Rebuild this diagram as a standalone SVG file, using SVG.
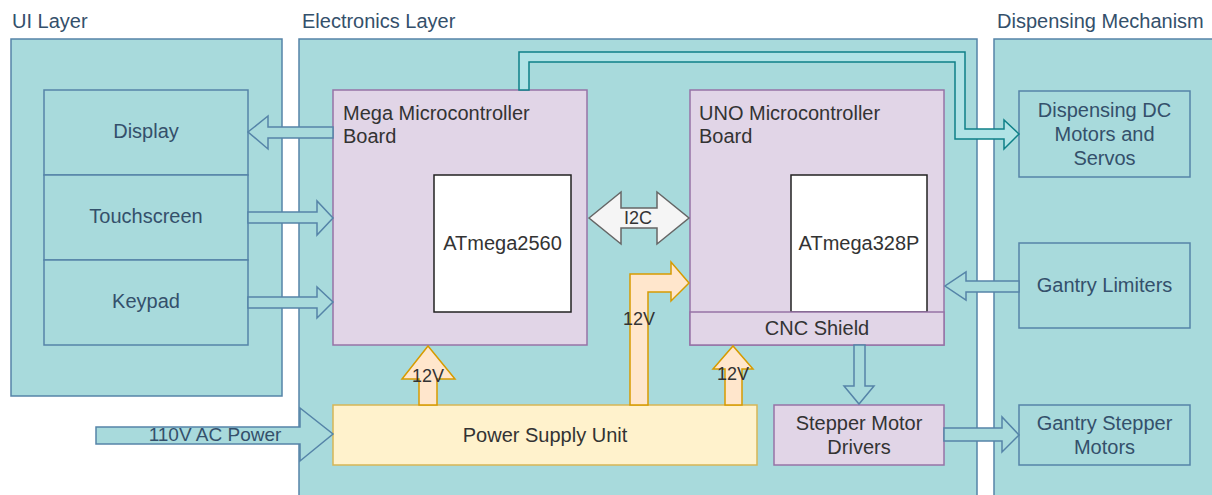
<svg xmlns="http://www.w3.org/2000/svg" width="1212" height="495" viewBox="0 0 1212 495">
<style>
text{font-family:"Liberation Sans",Arial,sans-serif;font-size:20px}
.t{fill:#34506b}
.d{fill:#333333}
.mid{text-anchor:middle}
.cont{fill:#a8dadc;stroke:#5584a8;stroke-width:1.5}
.box{fill:#a8dadc;stroke:#5584a8;stroke-width:1.5}
.pur{fill:#e1d5e7;stroke:#9673a6;stroke-width:1.5}
.chip{fill:#ffffff;stroke:#222222;stroke-width:1.5}
.psu{fill:#fff2cc;stroke:#d6b656;stroke-width:1.5}
.barr{fill:#a8dadc;stroke:#5584a8;stroke-width:1.5;stroke-linejoin:miter}
.oarr{fill:#ffe6cc;stroke:#d79b00;stroke-width:1.5}
.garr{fill:#f5f5f5;stroke:#666666;stroke-width:1.5}
.tarr{fill:#b0e3e6;stroke:#0e8088;stroke-width:1.5}
.v{font-size:18px}
</style>
<rect width="1212" height="495" fill="#ffffff"/>
<g id="ui-layer">
<text class="t" x="12" y="28">UI Layer</text>
<rect class="cont" x="11" y="39" width="271" height="357"/>
</g>
<g id="electronics-layer">
<text class="t" x="302" y="28">Electronics Layer</text>
<rect class="cont" x="299" y="39" width="678" height="470"/>
</g>
<g id="dispensing-layer">
<text class="t" x="997" y="28">Dispensing Mechanism</text>
<rect class="cont" x="994" y="39" width="230" height="470"/>
</g>
<g id="display"><rect class="box" x="44" y="90" width="204" height="85"/><text class="t mid" x="146" y="138">Display</text></g>
<g id="touchscreen"><rect class="box" x="44" y="175" width="204" height="85"/><text class="t mid" x="146" y="223">Touchscreen</text></g>
<g id="keypad"><rect class="box" x="44" y="260" width="204" height="85"/><text class="t mid" x="146" y="308">Keypad</text></g>
<g id="mega">
<rect class="pur" x="333" y="90" width="254" height="255"/>
<text class="d" x="343" y="120">Mega Microcontroller</text>
<text class="d" x="343" y="143">Board</text>
</g>
<g id="atmega2560"><rect class="chip" x="434" y="175" width="137" height="137"/><text class="d mid" x="502.5" y="250">ATmega2560</text></g>
<g id="uno">
<rect class="pur" x="690" y="90" width="254" height="255"/>
<text class="d" x="699" y="120">UNO Microcontroller</text>
<text class="d" x="699" y="143">Board</text>
</g>
<g id="atmega328p"><rect class="chip" x="791" y="175" width="136" height="137"/><text class="d mid" x="859" y="250">ATmega328P</text></g>
<g id="cnc-shield"><rect class="pur" x="690" y="312" width="254" height="33"/><text class="d mid" x="817" y="335">CNC Shield</text></g>
<g id="psu"><rect class="psu" x="333" y="405" width="424" height="60"/><text class="d mid" x="545" y="442">Power Supply Unit</text></g>
<g id="stepper-drivers"><rect class="pur" x="774" y="405" width="170" height="60"/><text class="d mid" x="859" y="430">Stepper Motor</text><text class="d mid" x="859" y="454">Drivers</text></g>
<g id="dispensing-dc"><rect class="box" x="1019" y="91" width="171" height="86"/><text class="t mid" x="1104.5" y="117">Dispensing DC</text><text class="t mid" x="1104.5" y="141">Motors and</text><text class="t mid" x="1104.5" y="165">Servos</text></g>
<g id="gantry-limiters"><rect class="box" x="1019" y="243" width="171" height="85"/><text class="t mid" x="1104.5" y="292">Gantry Limiters</text></g>
<g id="gantry-steppers"><rect class="box" x="1019" y="405" width="171" height="60"/><text class="t mid" x="1104.5" y="430">Gantry Stepper</text><text class="t mid" x="1104.5" y="454">Motors</text></g>
<g id="connectors">
<polygon class="barr" points="333,127 268,127 268,116 248,132 268,149 268,138 333,138"/>
<polygon class="barr" points="248,212 317,212 317,201 333,218 317,235 317,223 248,223"/>
<polygon class="barr" points="248,297 317,297 317,287 333,302 317,318 317,308 248,308"/>
<polygon class="barr" points="96,427 300,427 300,408 333,434 300,461 300,444 96,444"/>
<text class="t mid" x="215" y="441" style="font-size:19px">110V AC Power</text>
<polygon class="tarr" points="519,90 519,52 965,52 965,129 1004,129 1004,120 1019,134 1004,149 1004,139 955,139 955,62 529,62 529,90"/>
<polygon class="garr" points="589,218 621,192 621,208 657,208 657,192 689,218 657,244 657,228 621,228 621,244"/>
<text class="d mid" x="638" y="224" style="font-size:18px">I2C</text>
<polygon class="oarr" points="630,405 630,274 671,274 671,262 689,283 671,301 671,292 648,292 648,405"/>
<text class="d mid v" x="639" y="325">12V</text>
<polygon class="oarr" points="419,405 419,379 402,379 428,346 455,379 437,379 437,405"/>
<text class="d mid v" x="428" y="382">12V</text>
<polygon class="oarr" points="725,405 725,369 713,369 733,346 753,369 742,369 742,405"/>
<text class="d mid v" x="733" y="380">12V</text>
<polygon class="barr" points="854,345 854,386 844,386 859,404 874,386 865,386 865,345"/>
<polygon class="barr" points="944,428 1002,428 1002,417 1019,435 1002,452 1002,441 944,441"/>
<polygon class="barr" points="1019,281 966,281 966,272 945,286 966,300 966,292 1019,292"/>
</g>
</svg>
